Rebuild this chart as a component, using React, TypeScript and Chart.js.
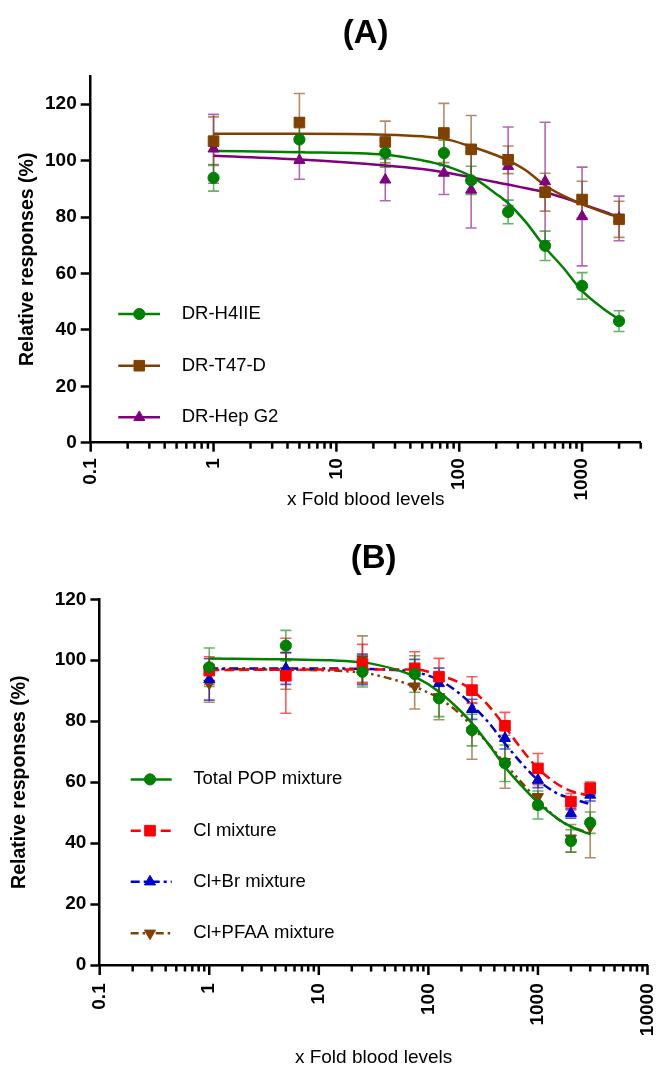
import React, { useEffect, useRef } from "react";
import { Chart, registerables } from "chart.js";
import { drawPoint } from "chart.js/helpers";

Chart.register(...registerables);

const FONT = "'Liberation Sans', Arial, Helvetica, sans-serif";

// ---------- Panel A data ----------
const A_X = [1, 5, 25, 75, 125, 250, 500, 1000, 2000];
const A_H4IIE = [93.9, 107.5, 102.7, 102.7, 93.0, 81.8, 69.8, 55.6, 43.1];
const A_H4IIE_ERR = [4.7, 7.7, 5.0, 4.5, 5.0, 4.2, 5.2, 4.7, 3.7];
const A_T47D = [106.9, 113.5, 106.6, 109.8, 104.0, 100.3, 88.8, 86.2, 79.2];
const A_T47D_ERR = [8.6, 10.3, 7.4, 10.5, 12.0, 4.9, 6.7, 6.5, 6.4];
const A_HEPG2 = [104.2, 100.1, 93.2, 95.6, 89.6, 98.0, 92.6, 80.2, 79.5];
const A_HEPG2_ERR = [12.2, 6.7, 7.4, 7.6, 13.5, 13.9, 21.0, 17.5, 7.9];

const A_CURVE_X = [1, 5, 25, 50, 75, 125, 200, 250, 350, 500, 700, 1000, 1500, 2000];
const A_H4IIE_FIT = [103.4, 103.0, 102.1, 100.1, 98.3, 94.4, 88.2, 84.9, 78.1, 69.2, 62.1, 53.8, 47.4, 43.7];
const A_T47D_FIT = [109.5, 109.5, 109.2, 108.6, 107.8, 105.0, 101.9, 100.1, 96.5, 91.2, 87.6, 84.6, 81.7, 79.9];
const A_HEPG2_FIT = [101.7, 100.4, 98.3, 97.0, 95.9, 94.1, 92.3, 91.5, 90.2, 88.8, 86.9, 84.6, 82.0, 79.9];

const A_X_TICKS = [0.1, 0.2, 0.3, 0.4, 0.5, 0.6, 0.7, 0.8, 0.9, 1, 2, 3, 4, 5, 6, 7, 8, 9, 10, 20, 30, 40, 50, 60, 70, 80, 90, 100, 200, 300, 400, 500, 600, 700, 800, 900, 1000, 2000, 3000];
const A_X_MAJOR = [0.1, 1, 10, 100, 1000];
const A_X_LABELS = ["0.1", "1", "10", "100", "1000"];

// ---------- Panel B data ----------
const B_X = [1, 5, 25, 75, 125, 250, 500, 1000, 2000, 3000];
const B_TOTAL = [97.7, 104.8, 96.2, 95.5, 87.5, 77.1, 66.2, 52.5, 40.7, 46.7];
const B_TOTAL_ERR = [6.3, 5.0, 5.0, 6.0, 6.0, 5.2, 6.0, 4.6, 3.7, 3.5];
const B_CL = [96.6, 94.9, 98.8, 97.3, 94.6, 90.2, 78.5, 64.5, 53.6, 58.0];
const B_CL_ERR = [4.5, 12.3, 6.4, 5.5, 6.0, 4.4, 4.4, 4.9, 2.7, 2.0];
const B_CLBR = [93.7, 97.3, 97.0, 95.8, 92.4, 83.9, 74.4, 60.7, 49.8, 55.8];
const B_CLBR_ERR = [6.8, 5.2, 5.0, 4.5, 5.0, 3.3, 3.5, 2.5, 1.6, 2.0];
const B_CLPFAA = [92.4, 96.5, 100.4, 91.5, 88.0, 76.8, 66.7, 55.2, 41.6, 45.4];
const B_CLPFAA_ERR = [6.2, 6.0, 7.6, 7.5, 7.5, 9.3, 8.7, 4.0, 4.5, 10.2];

const B_CURVE_X = [1, 5, 25, 50, 75, 125, 200, 250, 350, 500, 700, 1000, 1500, 2000, 3000];
const B_TOTAL_FIT = [100.6, 100.3, 99.3, 97.0, 94.6, 89.7, 83.1, 79.3, 72.7, 65.0, 59.0, 53.3, 48.1, 45.4, 42.9];
const B_CL_FIT = [96.8, 96.9, 97.0, 97.0, 97.0, 95.1, 92.4, 90.2, 85.3, 78.2, 71.1, 64.5, 59.4, 57.1, 55.5];
const B_CLBR_FIT = [97.3, 97.3, 97.2, 96.8, 96.2, 93.5, 88.6, 85.3, 79.8, 72.7, 66.4, 60.7, 56.3, 54.7, 52.8];
const B_CLPFAA_FIT = [97.1, 96.9, 95.9, 93.5, 91.3, 87.5, 82.0, 78.2, 72.7, 66.1, 60.1, 54.1, 48.1, 45.4, 43.2];

const B_X_TICKS = [0.1, 0.2, 0.3, 0.4, 0.5, 0.6, 0.7, 0.8, 0.9, 1, 2, 3, 4, 5, 6, 7, 8, 9, 10, 20, 30, 40, 50, 60, 70, 80, 90, 100, 200, 300, 400, 500, 600, 700, 800, 900, 1000, 2000, 3000, 4000, 5000, 6000, 7000, 8000, 9000, 10000];
const B_X_MAJOR = [0.1, 1, 10, 100, 1000, 10000];
const B_X_LABELS = ["0.1", "1", "10", "100", "1000", "10000"];

const Y_TICKS = [0, 20, 40, 60, 80, 100, 120];

const GREEN = "rgb(0,128,0)";
const BROWN = "rgb(128,64,0)";
const PURPLE = "rgb(128,0,128)";
const RED = "rgb(255,0,0)";
const BLUE = "rgb(0,0,204)";

const X_TITLE = "x Fold blood levels";
const Y_TITLE = "Relative responses (%)";

// ---------- plugins ----------
const errorBarsPlugin = {
  id: "errorBars",
  beforeDatasetsDraw(chart: any) {
    const ctx = chart.ctx;
    const xs = chart.scales.x;
    const ys = chart.scales.y;
    const sets = chart.data.datasets;
    for (let i = sets.length - 1; i >= 0; i--) {
      const ds = sets[i];
      if (!ds.errors) continue;
      ctx.save();
      ctx.strokeStyle = ds.errorColor;
      ctx.lineWidth = 1.6;
      ds.data.forEach((p: any, j: number) => {
        const e = ds.errors[j];
        const x = xs.getPixelForValue(p.x);
        const y1 = ys.getPixelForValue(p.y + e);
        const y2 = ys.getPixelForValue(p.y - e);
        ctx.beginPath();
        ctx.moveTo(x, y1);
        ctx.lineTo(x, y2);
        ctx.moveTo(x - 5.5, y1);
        ctx.lineTo(x + 5.5, y1);
        ctx.moveTo(x - 5.5, y2);
        ctx.lineTo(x + 5.5, y2);
        ctx.stroke();
      });
      ctx.restore();
    }
  },
};

const axisTicksPlugin = {
  id: "axisTicks",
  afterDraw(chart: any, _args: any, opts: any) {
    const ctx = chart.ctx;
    const s = chart.scales.x;
    ctx.save();
    ctx.strokeStyle = "#000";
    ctx.lineWidth = 2.5;
    s.ticks.forEach((t: any) => {
      const px = s.getPixelForValue(t.value);
      const major = opts.majorValues.some((m: number) => Math.abs(m - t.value) < 1e-9);
      const len = major ? opts.major : opts.minor;
      ctx.beginPath();
      ctx.moveTo(px, s.top);
      ctx.lineTo(px, s.top + len);
      ctx.stroke();
    });
    ctx.restore();
  },
};

const panelTitlePlugin = {
  id: "panelTitle",
  afterDraw(chart: any, _args: any, opts: any) {
    const ctx = chart.ctx;
    const ca = chart.chartArea;
    ctx.save();
    ctx.fillStyle = "#000";
    ctx.font = `bold ${opts.size}px ${FONT}`;
    ctx.textAlign = "center";
    ctx.textBaseline = "alphabetic";
    ctx.fillText(opts.text, (ca.left + ca.right) / 2, opts.y);
    ctx.restore();
  },
};

const customLegendPlugin = {
  id: "customLegend",
  afterDraw(chart: any, _args: any, opts: any) {
    const ctx = chart.ctx;
    opts.items.forEach((it: any, i: number) => {
      const y = opts.rows[i];
      ctx.save();
      ctx.strokeStyle = it.color;
      ctx.lineWidth = 2.5;
      ctx.setLineDash(it.dash || []);
      ctx.beginPath();
      ctx.moveTo(opts.x1, y);
      ctx.lineTo(opts.x2, y);
      ctx.stroke();
      ctx.setLineDash([]);
      ctx.fillStyle = it.color;
      ctx.strokeStyle = it.color;
      ctx.lineWidth = 1;
      drawPoint(ctx, { pointStyle: it.pointStyle, radius: it.radius, rotation: it.rotation || 0, borderWidth: 1 } as any, opts.mx, y);
      ctx.fillStyle = "#000";
      ctx.font = `18.5px ${FONT}`;
      ctx.textAlign = "left";
      ctx.textBaseline = "middle";
      ctx.fillText(it.label, opts.tx, y);
      ctx.restore();
    });
  },
};

type SeriesSpec = {
  label: string;
  color: string;
  errColor: string;
  values: number[];
  errors: number[];
  fit: number[];
  pointStyle: string;
  radius: number;
  rotation?: number;
  dash: number[];
};

type PanelSpec = {
  title: string;
  titleSize: number;
  titleY: number;
  x: number[];
  curveX: number[];
  series: SeriesSpec[];
  xMax: number;
  yMax: number;
  xTicks: number[];
  xMajor: number[];
  xLabels: string[];
  padTop: number;
  padRight: number;
  yWidth: number;
  xHeight: number;
  yTitlePad: number;
  xTitlePad: number;
  xTickLen: number;
  xMinorLen: number;
  xLabelPad: number;
  yTickLen: number;
  legend: { x1: number; x2: number; mx: number; tx: number; rows: number[] };
};

function pts(xs: number[], ys: number[]) {
  return xs.map((x, i) => ({ x, y: ys[i] }));
}

function buildConfig(p: PanelSpec): any {
  const pointSets = p.series.map((s) => ({
    type: "scatter",
    label: s.label,
    data: pts(p.x, s.values),
    errors: s.errors,
    errorColor: s.errColor,
    showLine: false,
    pointStyle: s.pointStyle,
    pointRadius: s.radius,
    pointRotation: s.rotation || 0,
    pointBackgroundColor: s.color,
    pointBorderColor: s.color,
    pointBorderWidth: 1,
    backgroundColor: s.color,
    borderColor: s.color,
  }));
  const curveSets = p.series.map((s) => ({
    type: "scatter",
    label: s.label + " fit",
    data: pts(p.curveX, s.fit),
    showLine: true,
    pointRadius: 0,
    borderColor: s.color,
    backgroundColor: s.color,
    borderWidth: 2.5,
    borderDash: s.dash,
    tension: 0.4,
    cubicInterpolationMode: "monotone",
    fill: false,
  }));
  const isMajor = (v: number) => p.xMajor.findIndex((m) => Math.abs(m - v) < 1e-9);
  return {
    type: "scatter",
    data: { datasets: [...pointSets, ...curveSets] },
    options: {
      responsive: false,
      animation: false,
      events: [],
      layout: { padding: { top: p.padTop, right: p.padRight, left: 0, bottom: 0 } },
      scales: {
        x: {
          type: "logarithmic",
          min: 0.1,
          max: p.xMax,
          afterBuildTicks: (s: any) => {
            s.ticks = p.xTicks.map((v) => ({ value: v, major: false }));
          },
          afterFit: (s: any) => {
            s.height = p.xHeight;
            s.paddingLeft = 0;
            s.paddingRight = 0;
          },
          ticks: {
            autoSkip: false,
            minRotation: 90,
            maxRotation: 90,
            padding: p.xLabelPad,
            color: "#000",
            font: { family: FONT, size: 19, weight: "bold" },
            callback: (v: any) => {
              const k = isMajor(Number(v));
              return k >= 0 ? p.xLabels[k] : "";
            },
          },
          grid: {
            display: true,
            drawOnChartArea: false,
            drawTicks: true,
            tickLength: p.xTickLen,
            tickColor: "rgba(0,0,0,0)",
          },
          border: { display: true, color: "#000", width: 2.5 },
          title: {
            display: true,
            text: X_TITLE,
            color: "#000",
            font: { family: FONT, size: 19, lineHeight: 0.8 },
            padding: { top: 0, bottom: p.xTitlePad },
          },
        },
        y: {
          type: "linear",
          min: 0,
          max: p.yMax,
          afterBuildTicks: (s: any) => {
            s.ticks = Y_TICKS.map((v) => ({ value: v }));
          },
          afterFit: (s: any) => {
            s.width = p.yWidth;
            s.paddingTop = 0;
            s.paddingBottom = 0;
          },
          ticks: {
            padding: 4,
            color: "#000",
            font: { family: FONT, size: 19, weight: "bold" },
          },
          grid: {
            drawOnChartArea: false,
            drawTicks: true,
            tickLength: p.yTickLen,
            tickWidth: 2.5,
            tickColor: "#000",
          },
          border: { display: true, color: "#000", width: 2.5 },
          title: {
            display: true,
            text: Y_TITLE,
            color: "#000",
            font: { family: FONT, size: 19.5, weight: "bold", lineHeight: 1.2 },
            padding: { top: p.yTitlePad, bottom: 0 },
          },
        },
      },
      plugins: {
        legend: { display: false },
        tooltip: { enabled: false },
        panelTitle: { text: p.title, size: p.titleSize, y: p.titleY },
        axisTicks: { major: p.xTickLen, minor: p.xMinorLen, majorValues: p.xMajor },
        customLegend: {
          ...p.legend,
          items: p.series.map((s) => ({
            label: s.label,
            color: s.color,
            dash: s.dash,
            pointStyle: s.pointStyle,
            radius: s.radius,
            rotation: s.rotation || 0,
          })),
        },
      },
    },
    plugins: [errorBarsPlugin, axisTicksPlugin, panelTitlePlugin, customLegendPlugin],
  };
}

const PANEL_A: PanelSpec = {
  title: "(A)",
  titleSize: 33,
  titleY: 43,
  x: A_X,
  curveX: A_CURVE_X,
  xMax: 3000,
  yMax: 130,
  xTicks: A_X_TICKS,
  xMajor: A_X_MAJOR,
  xLabels: A_X_LABELS,
  padTop: 76,
  padRight: 15.3,
  yWidth: 90.7,
  xHeight: 77.3,
  yTitlePad: 16.3,
  xTitlePad: 12.3,
  xTickLen: 9,
  xMinorLen: 6,
  xLabelPad: 6.6,
  yTickLen: 10,
  legend: { x1: 118.3, x2: 160, mx: 139.3, tx: 181.7, rows: [314, 365.7, 417.3] },
  series: [
    { label: "DR-H4IIE", color: GREEN, errColor: "rgba(0,128,0,0.6)", values: A_H4IIE, errors: A_H4IIE_ERR, fit: A_H4IIE_FIT, pointStyle: "circle", radius: 5.6, dash: [] },
    { label: "DR-T47-D", color: BROWN, errColor: "rgba(128,64,0,0.6)", values: A_T47D, errors: A_T47D_ERR, fit: A_T47D_FIT, pointStyle: "rect", radius: 7.5, dash: [] },
    { label: "DR-Hep G2", color: PURPLE, errColor: "rgba(128,0,128,0.6)", values: A_HEPG2, errors: A_HEPG2_ERR, fit: A_HEPG2_FIT, pointStyle: "triangle", radius: 6.4, dash: [] },
  ],
};

const PANEL_B: PanelSpec = {
  title: "(B)",
  titleSize: 33,
  titleY: 48,
  x: B_X,
  curveX: B_CURVE_X,
  xMax: 10000,
  yMax: 120,
  xTicks: B_X_TICKS,
  xMajor: B_X_MAJOR,
  xLabels: B_X_LABELS,
  padTop: 79.3,
  padRight: 7.7,
  yWidth: 99.7,
  xHeight: 100,
  yTitlePad: 8.3,
  xTitlePad: 0,
  xTickLen: 10,
  xMinorLen: 6.5,
  xLabelPad: 8.3,
  yTickLen: 9.3,
  legend: { x1: 130.7, x2: 171.7, mx: 150, tx: 193.3, rows: [259.4, 310.7, 361.7, 413.3] },
  series: [
    { label: "Total POP mixture", color: GREEN, errColor: "rgba(0,128,0,0.6)", values: B_TOTAL, errors: B_TOTAL_ERR, fit: B_TOTAL_FIT, pointStyle: "circle", radius: 5.6, dash: [] },
    { label: "Cl mixture", color: RED, errColor: "rgba(255,0,0,0.65)", values: B_CL, errors: B_CL_ERR, fit: B_CL_FIT, pointStyle: "rect", radius: 7.5, dash: [10, 5] },
    { label: "Cl+Br mixture", color: BLUE, errColor: "rgba(0,0,204,0.65)", values: B_CLBR, errors: B_CLBR_ERR, fit: B_CLBR_FIT, pointStyle: "triangle", radius: 6.4, dash: [9, 4, 3, 4] },
    { label: "Cl+PFAA mixture", color: BROWN, errColor: "rgba(128,64,0,0.6)", values: B_CLPFAA, errors: B_CLPFAA_ERR, fit: B_CLPFAA_FIT, pointStyle: "triangle", radius: 6.4, rotation: 180, dash: [8, 4, 2.5, 4, 2.5, 4] },
  ],
};

function Panel({ spec, top, height }: { spec: PanelSpec; top: number; height: number }) {
  const ref = useRef<HTMLCanvasElement>(null);
  useEffect(() => {
    if (!ref.current) return;
    const chart = new Chart(ref.current, buildConfig(spec));
    return () => chart.destroy();
  }, [spec]);
  return (
    <canvas
      ref={ref}
      width={656}
      height={height}
      style={{ position: "absolute", left: 0, top, width: 656, height, display: "block" }}
    />
  );
}

export default function App() {
  return (
    <div style={{ position: "absolute", left: 0, top: 0, width: 656, height: 1065, background: "#fff", overflow: "hidden" }}>
      <Panel spec={PANEL_A} top={0} height={520} />
      <Panel spec={PANEL_B} top={520} height={545} />
    </div>
  );
}
